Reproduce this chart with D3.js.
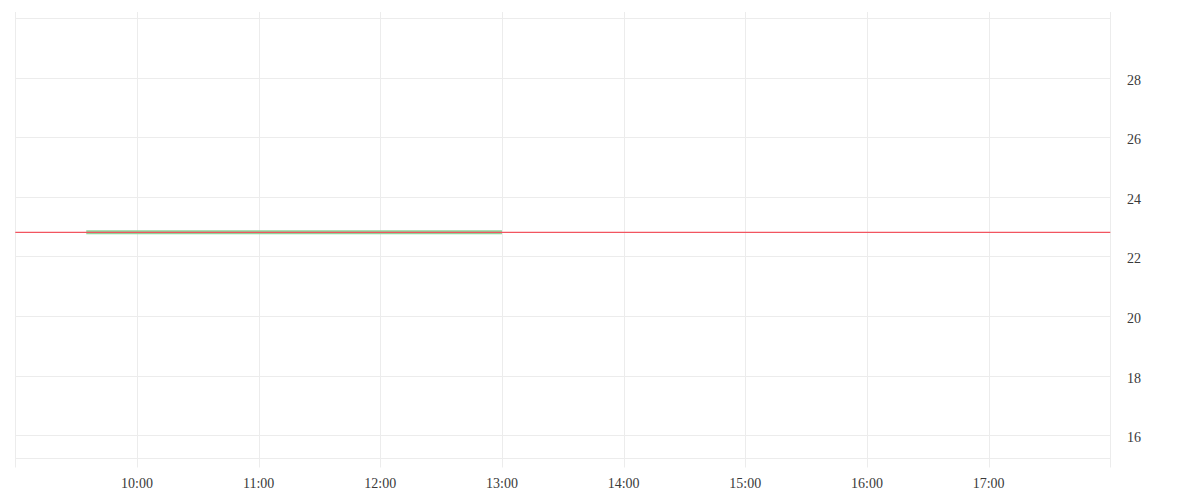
<!DOCTYPE html>
<html>
<head>
<meta charset="utf-8">
<script src="https://cdn.jsdelivr.net/npm/d3@7"></script>
<style>
  html, body { margin: 0; padding: 0; background: #fff; }
  text { font-family: "Liberation Serif", serif; font-size: 14px; fill: #3a3a3a; }
</style>
</head>
<body>
<div id="app"></div>
<script>
// chart data
let xTicks = ["09:00", "10:00", "11:00", "12:00", "13:00", "14:00", "15:00", "16:00", "17:00", "18:00"];
let xLabels = ["10:00", "11:00", "12:00", "13:00", "14:00", "15:00", "16:00", "17:00"];
let yTicks = [16, 18, 20, 22, 24, 26, 28, 30];
let yLabels = [16, 18, 20, 22, 24, 26, 28];
let refTimes = ["09:00", "18:00"];
let refValues = [22.81, 22.81];
let seriesTimes = ["09:35", "13:00"];
let seriesValues = [22.81, 22.81];

let parse = d3.timeParse("%H:%M");
let width = 1200, height = 500;

let svg = d3.select("#app")
  .append("svg")
    .attr("width", width)
    .attr("height", height);

let x = d3.scaleTime()
  .domain([parse("09:00"), parse("18:00")])
  .range([15.3, 1110.3]);

let y = d3.scaleLinear()
  .domain([15.22, 30])
  .range([458.3, 18.3]);

// grid
let grid = svg.append("g").attr("class", "grid");
grid.selectAll(".vline")
  .data(xTicks)
  .enter()
  .append("line")
    .attr("x1", d => Math.round(x(parse(d))) + 0.5)
    .attr("x2", d => Math.round(x(parse(d))) + 0.5)
    .attr("y1", 12)
    .attr("y2", 467.5)
    .attr("stroke", "#ececec");
grid.selectAll(".hline")
  .data(yTicks.concat([15.22]))
  .enter()
  .append("line")
    .attr("x1", 15)
    .attr("x2", 1110)
    .attr("y1", d => Math.round(y(d)) + 0.5)
    .attr("y2", d => Math.round(y(d)) + 0.5)
    .attr("stroke", "#ececec");

// x axis labels
svg.append("g")
  .selectAll("text")
  .data(xLabels)
  .enter()
  .append("text")
    .attr("x", d => x(parse(d)))
    .attr("y", 488)
    .attr("text-anchor", "middle")
    .text(d => d);

// y axis labels (right side)
svg.append("g")
  .selectAll("text")
  .data(yLabels)
  .enter()
  .append("text")
    .attr("x", 1127)
    .attr("y", d => y(d) + 7)
    .text(d => d);

let line = d3.line()
  .x(d => x(d.t))
  .y(d => y(d.v));

// green series band
let seriesData = seriesTimes.map((t, i) => ({t: parse(t), v: seriesValues[i]}));
svg.append("path")
  .datum(seriesData)
  .attr("d", line)
  .attr("fill", "none")
  .attr("stroke", "#8fd49c")
  .attr("stroke-width", 4);

// red reference line
let refData = refTimes.map((t, i) => ({t: parse(t), v: refValues[i]}));
svg.append("path")
  .datum(refData)
  .attr("d", line)
  .attr("fill", "none")
  .attr("stroke", "#f25560")
  .attr("stroke-width", 1.4);
</script>
</body>
</html>
